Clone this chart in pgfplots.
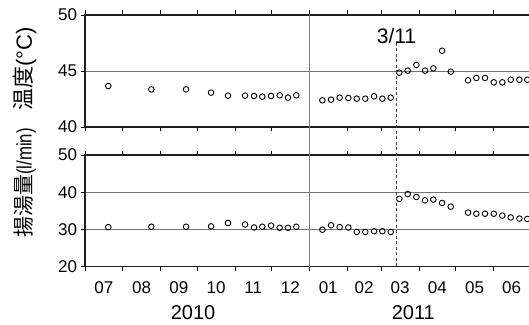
\documentclass[border=0pt]{standalone}
\usepackage{fontspec}
\setmainfont{Liberation Sans}
\newfontfamily\jp{Noto Sans CJK JP}
\usepackage{graphicx}
\usepackage{pgfplots}
\usepackage{pgfplotstable}
\pgfplotsset{compat=1.18}

% d = days since 2010-07-01, t = temperature (C), q = flow (l/min)
\pgfplotstableread{
d t q
19.1 43.66 30.6
54.4 43.36 30.7
82.9 43.36 30.7
103.4 43.07 30.8
117.3 42.80 31.7
131.3 42.80 31.3
138.6 42.77 30.5
145.4 42.71 30.7
152.6 42.77 31.0
159.7 42.83 30.4
166.5 42.62 30.4
173.3 42.83 30.7
194.7 42.38 29.9
201.8 42.44 31.1
208.9 42.62 30.6
216.0 42.59 30.5
222.9 42.53 29.3
229.9 42.53 29.3
237.1 42.74 29.5
243.9 42.53 29.5
250.8 42.62 29.3
257.8 44.85 38.2
264.7 45.03 39.5
271.8 45.54 38.7
278.9 45.03 37.8
285.7 45.24 38.0
292.9 46.81 37.1
300.0 44.94 36.1
314.2 44.17 34.5
321.0 44.38 34.2
328.1 44.38 34.2
335.3 43.99 34.2
342.3 43.99 33.7
349.2 44.22 33.2
356.3 44.22 32.9
362.8 44.22 32.8
}\data

\pgfplotsset{
 myaxis/.style={
  scale only axis, width=444pt, xmin=0, xmax=364.2,
  axis x line=box, axis y line=left,
  axis line style={-, line width=1.6pt, color=black!88, line cap=rect},
  xtick={0,31,62,92,123,153,184,215,243,274,304,335},
  xtick pos=both, ytick pos=left,
  tick align=outside, major tick length=4.5pt,
  tick style={line width=0.8pt, black},
  ymajorgrids, grid style={line width=0.6pt, black!55},
  tick label style={font=\fontsize{17}{17}\selectfont},
  /pgf/number format/assume math mode=true,
 },
 mymark/.style={only marks, mark=o, mark size=2.8pt, mark options={line width=0.9pt, black}},
}

\begin{document}
\begin{tikzpicture}
\begin{axis}[myaxis, at={(85pt,197pt)}, anchor=south west, height=112pt,
  ymin=40, ymax=50, ytick={40,45,50}, xticklabels={}]
\addplot[mymark] table[x=d,y=t]{\data};
\coordinate (jt) at (axis cs:184,50);
\coordinate (dt) at (axis cs:255,47.5);
\coordinate (lbl) at (axis cs:255.5,48.1);
\end{axis}

\begin{axis}[myaxis, at={(85pt,57.5pt)}, anchor=south west, height=111.5pt,
  ymin=20, ymax=50, ytick={20,30,40,50}, xticklabels={},
  extra x ticks={15.5,46.5,77,107.5,138,168.5,199.5,229,258.5,289,319.5,350},
  extra x tick labels={07,08,09,10,11,12,01,02,03,04,05,06},
  extra x tick style={major tick length=0pt, xticklabel style={yshift=-12pt}}]
\addplot[mymark] table[x=d,y=q]{\data};
\coordinate (jb) at (axis cs:184,20);
\coordinate (db) at (axis cs:255,20);
\coordinate (y10) at (axis cs:88.6,20);
\coordinate (y11) at (axis cs:269.3,20);
\end{axis}

\draw[black!50, line width=1.2pt] (jt) -- (jb);
\draw[black!75, line width=0.6pt, dash pattern=on 3pt off 2.5pt] (dt) -- (db);
\node[font=\fontsize{21}{21}\selectfont] at (lbl) {3/11};
\node[font=\fontsize{20}{20}\selectfont] at ([yshift=-46pt]y10) {2010};
\node[font=\fontsize{20}{20}\selectfont] at ([yshift=-46pt]y11) {2011};
\node[rotate=90, font=\fontsize{22}{22}\selectfont] at (25pt,255pt) {{\jp 温度}(°C)};
\node[rotate=90, font=\fontsize{21}{21}\selectfont] at (25pt,141pt) {{\jp 揚湯量}\scalebox{0.8}[1]{(l/min)}};
\pgfresetboundingbox
\path[use as bounding box] (0,0) rectangle (529pt,324pt);
\end{tikzpicture}
\end{document}
